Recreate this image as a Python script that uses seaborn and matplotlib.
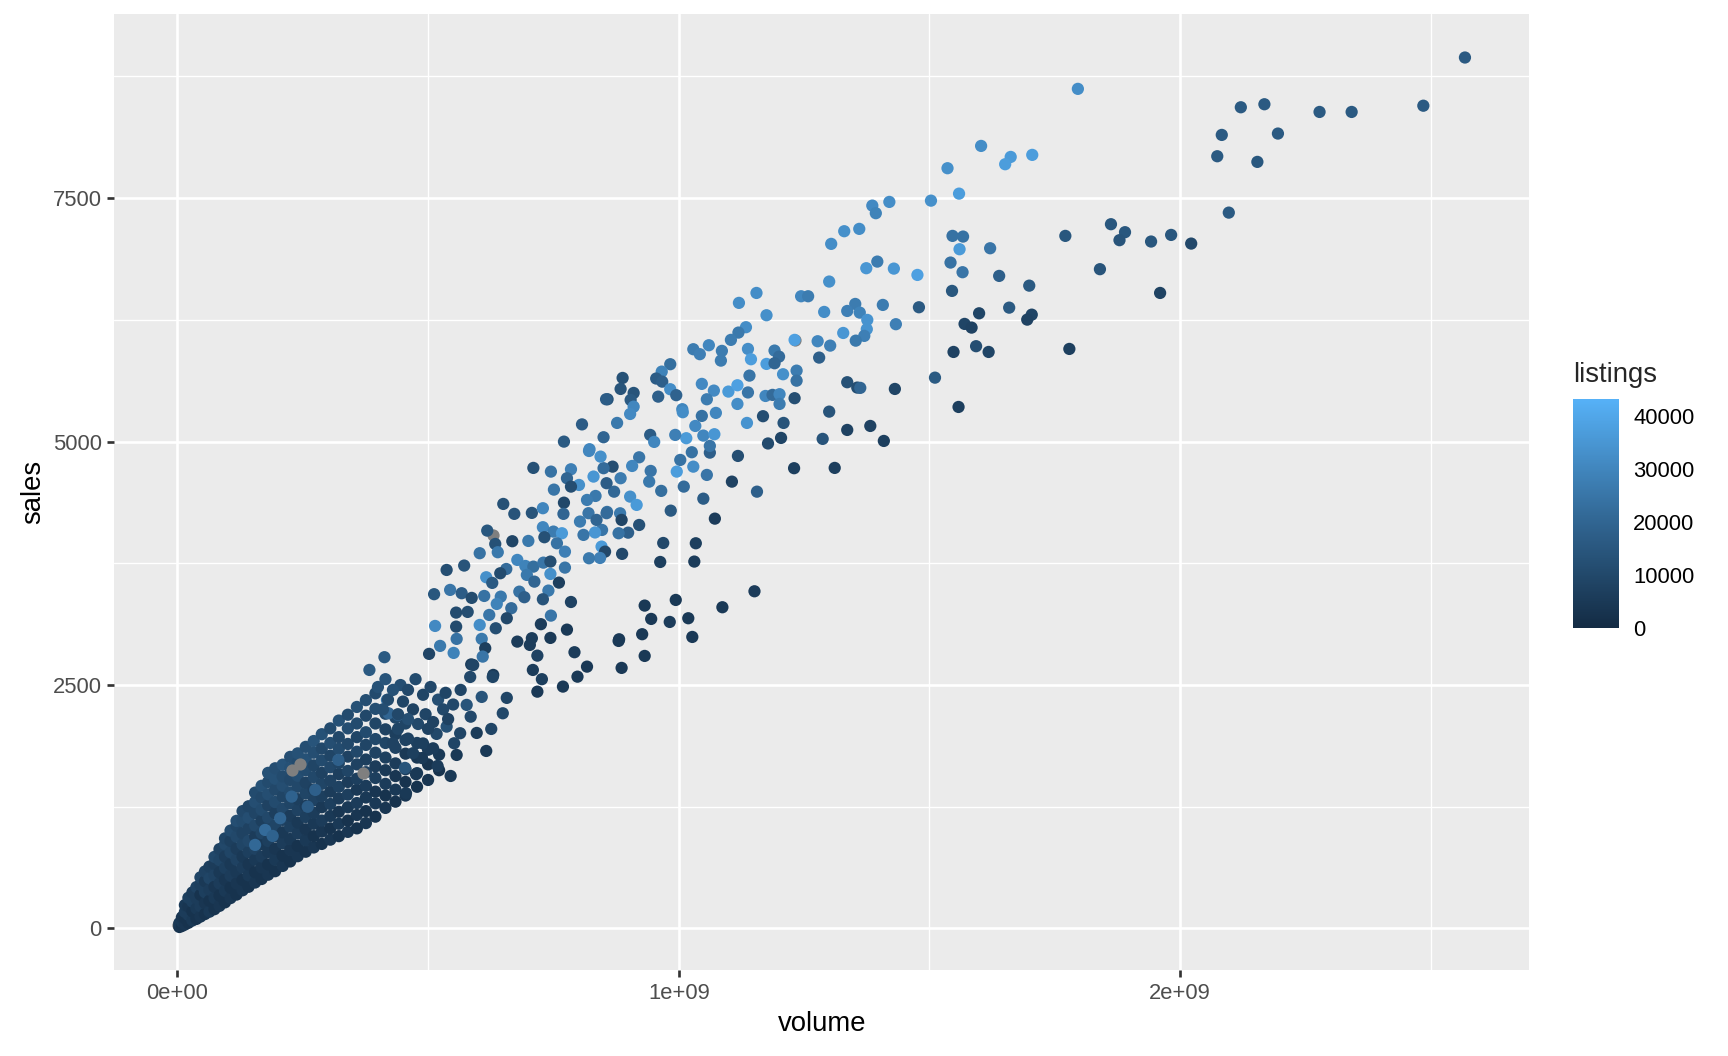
import numpy as np
import pandas as pd
import matplotlib
matplotlib.use("Agg")
import matplotlib.pyplot as plt
from matplotlib.colors import LinearSegmentedColormap, Normalize
from matplotlib.cm import ScalarMappable
import seaborn as sns

# values, volume in millions of dollars

# sparse upper part (sales above ~6000)
top_volume = [2568, 2485, 1796, 2121, 2168, 2278, 2342, 2083, 2195, 2074, 2154, 2097,
              1603, 1662, 1651, 1705, 1536, 1559, 1503, 1420, 1386, 1393, 1330, 1360,
              1546, 1567, 1560, 1621, 1771, 1862, 1890, 1879, 1942, 1982, 2022, 1542,
              1566, 1639, 1699, 1840, 1960, 1545, 1479, 1599, 1659, 1704, 1695, 1570,
              1584, 1374, 1396, 1429, 1476, 1407, 1352, 1336, 1361, 1376, 1433, 1304,
              1300, 1155, 1120, 1175, 1244, 1258, 1290, 1375, 1370, 1353, 1328, 1277,
              1231, 1134, 1119, 1104, 1060]
top_sales = [8945, 8450, 8623, 8434, 8465, 8386, 8386, 8150, 8164, 7931, 7873, 7352,
             8037, 7924, 7849, 7945, 7808, 7547, 7475, 7462, 7424, 7346, 7161, 7185,
             7113, 7106, 6976, 6986, 7113, 7233, 7151, 7069, 7055, 7123, 7034, 6839,
             6740, 6702, 6602, 6771, 6527, 6548, 6380, 6318, 6376, 6304, 6253, 6209,
             6171, 6781, 6849, 6777, 6712, 6404, 6414, 6342, 6325, 6250, 6206, 7031,
             6644, 6527, 6425, 6298, 6493, 6493, 6332, 6155, 6086, 6037, 6116, 6031,
             6045, 6175, 6120, 6045, 5990]
top_listings = [16000, 16000, 32000, 16000, 16000, 16000, 16000, 16000, 16000, 16000, 15000, 16000,
                32000, 36000, 37000, 37000, 33000, 37000, 33000, 32000, 31000, 29000, 33000, 32000,
                24000, 24000, 36000, 25000, 15000, 15000, 15000, 14000, 15000, 15000, 10000, 24000,
                25000, 18000, 16000, 14000, 8000, 15000, 16000, 9000, 16000, 9000, 8000, 9000,
                8000, 35000, 27000, 35000, 38000, 27000, 27000, 28000, 29000, 34000, 28000, 32000,
                33000, 32000, 32000, 33000, 30000, 27000, 32000, 34000, 28000, 26000, 35000, 30000,
                38000, 32000, 26000, 27000, 30000]

# middle part (sales ~3800 to ~6000)
mid_volume = [1302, 1280, 1336, 1356, 1138, 1144, 1175, 1191, 1200, 1191, 1208, 1235,
              1235, 1231, 1141, 1086, 1084, 1029, 1042, 1046, 1070, 1099, 1117, 1138,
              1173, 1187, 1201, 1201, 1117, 1056, 983, 966, 955, 967, 983, 995,
              959, 888, 884, 910, 904, 858, 1007, 910, 1548, 1593, 1618, 1779,
              1511, 1431, 1362, 1558, 1382, 1409, 1300, 1336, 1287, 1311, 1230, 1209,
              1204, 1178, 1168, 1136, 1118, 1106, 1156, 1072, 1034, 1031, 969, 963,
              1049, 984, 1010, 1056, 1029, 996, 1003, 1026, 1062, 1062, 1049, 1071,
              1015, 993, 1033, 1046, 1074, 1008, 943, 951, 944, 941, 965, 921,
              907, 884, 868, 850, 871, 856, 903, 916, 883, 857, 886, 921,
              899, 880, 847, 846, 853, 887, 843, 877, 903, 850, 855, 807,
              771, 822, 821, 844, 710, 745, 785, 830, 777, 801, 751, 785,
              834, 817, 771, 650, 672, 707, 729, 770, 820, 856, 803, 836,
              729, 750, 767, 833, 810, 732, 700, 668, 618, 634, 757, 773,
              821, 603, 639]
mid_sales = [5986, 5863, 5610, 5555, 5952, 5846, 5798, 5935, 5873, 5805, 5692, 5729,
             5626, 5446, 5678, 5932, 5832, 5949, 5898, 5593, 5524, 5514, 5579, 5505,
             5469, 5480, 5487, 5387, 5387, 5435, 5795, 5719, 5648, 5616, 5538, 5477,
             5462, 5654, 5541, 5500, 5428, 5435, 5333, 5359, 5921, 5980, 5921, 5952,
             5657, 5541, 5552, 5356, 5161, 5007, 5308, 5120, 5028, 4730, 4727, 5192,
             5038, 4981, 5261, 5192, 4853, 4589, 4486, 4209, 3956, 3768, 3959, 3764,
             4414, 4291, 4538, 4658, 4743, 4692, 4812, 4891, 4887, 4956, 5062, 5076,
             5035, 5069, 5161, 5264, 5295, 5302, 5069, 4997, 4699, 4589, 4494, 4839,
             4750, 4624, 4743, 4727, 4486, 4573, 4435, 4350, 4264, 4278, 4196, 4144,
             4065, 4059, 4093, 3922, 3870, 3847, 3805, 5192, 5284, 5045, 5435, 5177,
             5000, 4922, 4904, 4846, 4730, 4692, 4716, 4641, 4624, 4555, 4507, 4538,
             4442, 4401, 4373, 4360, 4258, 4268, 4316, 4258, 4265, 4265, 4179, 4196,
             4121, 4076, 4059, 4067, 4042, 4018, 3980, 3977, 4086, 3949, 3956, 3870,
             3802, 3854, 3864]
mid_listings = [28000, 18000, 13000, 12000, 32000, 37000, 37000, 26000, 22000, 20000, 33000, 27000,
                24000, 12000, 25000, 27000, 27000, 27000, 28000, 31000, 31000, 36000, 38000, 25000,
                30000, 22000, 30000, 27000, 32000, 27000, 23000, 29000, 17000, 18000, 32000, 19000,
                18000, 13000, 14000, 14000, 16000, 14000, 30000, 30000, 8000, 12000, 9000, 7000,
                16000, 9000, 20000, 7000, 8000, 7000, 14000, 8000, 14000, 7000, 7000, 14000,
                9000, 11000, 12000, 34000, 12000, 8000, 18000, 6000, 7000, 6000, 10000, 7000,
                17000, 16000, 22000, 25000, 32000, 37000, 24000, 24000, 18000, 25000, 30000, 35000,
                36000, 28000, 31000, 24000, 30000, 32000, 17000, 30000, 25000, 26000, 23000, 25000,
                30000, 27000, 12000, 22000, 21000, 17000, 33000, 36000, 26000, 24000, 9000, 13000,
                18000, 24000, 25000, 36000, 10000, 10000, 28000, 26000, 31000, 20000, 17000, 17000,
                16000, 30000, 30000, 33000, 13000, 24000, 28000, 35000, 20000, 33000, 25000, 12000,
                26000, 27000, 10000, 13000, 14000, 14000, 30000, 20000, 25000, 22000, 27000, 20000,
                30000, 27000, 36000, 35000, 25000, 13000, 26000, 9000, 15000, 13000, 24000, 28000,
                26000, 24000, 26000]

# lower part (sales ~1400 to ~3800, right of the dense core)
low_volume = [1151, 1087, 994, 932, 945, 982, 1019, 1027, 927, 881, 932, 886,
              537, 572, 678, 694, 710, 730, 744, 656, 644, 744, 773, 697,
              616, 628, 712, 761, 740, 682, 692, 729, 785, 512, 544, 567,
              587, 612, 645, 637, 666, 556, 579, 622, 657, 745, 725, 514,
              556, 603, 635, 777, 744, 557, 607, 678, 707, 703, 524, 551,
              614, 792, 502, 609, 718, 413, 383, 586, 817, 709, 630, 727,
              798, 769, 718, 880, 629, 584, 590, 607, 657, 649, 585, 577,
              626, 597, 564, 552, 616, 557, 537, 517, 545, 519, 476, 456,
              454, 488, 445, 460, 475, 490, 505, 520, 535, 550, 565, 450,
              470, 495, 510, 530, 480, 500, 460, 540, 440, 440, 460, 490,
              510, 470, 430, 420, 430, 410, 400, 415]
low_sales = [3463, 3299, 3374, 3316, 3179, 3148, 3186, 2994, 3022, 2970, 2799, 2676,
             3682, 3727, 3785, 3723, 3716, 3757, 3768, 3692, 3648, 3641, 3706, 3631,
             3607, 3549, 3562, 3552, 3470, 3459, 3402, 3381, 3353, 3433, 3477, 3443,
             3395, 3415, 3408, 3333, 3289, 3244, 3251, 3220, 3186, 3213, 3125, 3107,
             3100, 3117, 3083, 3069, 2984, 2974, 2974, 2946, 2981, 2912, 2902, 2830,
             2878, 2837, 2820, 2792, 2802, 2786, 2655, 2712, 2689, 2655, 2604, 2560,
             2586, 2484, 2432, 2953, 2583, 2583, 2706, 2378, 2368, 2210, 2175, 2296,
             2049, 2008, 2005, 1902, 1823, 1782, 2073, 1998, 1566, 1669, 1584, 1389,
             1649, 1750, 2500, 2450, 2560, 2400, 2480, 2350, 2420, 2300, 2450, 2330,
             2250, 2200, 2120, 2250, 2100, 2050, 2150, 2150, 2200, 2050, 1950, 1900,
             1850, 1800, 1900, 2350, 2450, 2250, 2480, 2560]
low_listings = [6000, 5000, 5000, 5000, 5000, 6000, 5000, 5000, 5000, 5000, 5000, 5000,
                12000, 14000, 30000, 29000, 23000, 25000, 12000, 22000, 11000, 33000, 25000, 26000,
                33000, 16000, 20000, 7000, 26000, 24000, 18000, 14000, 8000, 15000, 25000, 17000,
                11000, 24000, 26000, 29000, 22000, 11000, 12000, 25000, 10000, 25000, 6000, 31000,
                11000, 32000, 12000, 5000, 5000, 24000, 26000, 6000, 6000, 6000, 26000, 29000,
                7000, 6000, 9000, 25000, 8000, 16000, 16000, 7000, 5000, 6000, 6000, 7000,
                5000, 5000, 5000, 5000, 9000, 10000, 9000, 14000, 9000, 10000, 10000, 14000,
                9000, 6000, 9000, 9000, 5000, 5000, 13000, 10000, 5000, 6000, 5000, 5000,
                14000, 5000, 12000, 10000, 11000, 9000, 10000, 12000, 9000, 10000, 9000, 9000,
                8000, 9000, 8000, 10000, 10000, 8000, 12000, 8000, 10000, 9000, 8000, 7000,
                6000, 7000, 8000, 11000, 13000, 12000, 13000, 14000]

# dense core near the origin: one volume per column, several sales in each
core_volume = [4, 9, 15, 22, 30, 38, 46, 55, 64, 74, 84, 95, 106, 118, 130, 142, 155, 168,
               181, 195, 210, 225, 240, 256, 272, 288, 305, 322, 340, 358, 376, 395,
               415, 435, 455, 478, 500, 522]
core_sales = [
    [15, 35, 55],
    [25, 70, 115],
    [40, 105, 170, 240],
    [58, 140, 225, 315],
    [82, 175, 275, 370],
    [98, 205, 310, 425],
    [122, 228, 345, 448, 525],
    [148, 262, 372, 485, 585],
    [172, 285, 398, 515, 635],
    [198, 312, 428, 548, 665, 735],
    [232, 338, 462, 575, 702, 815],
    [268, 385, 498, 622, 738, 865, 925],
    [312, 418, 542, 658, 782, 898, 1005],
    [348, 462, 578, 705, 818, 942, 1055, 1105],
    [392, 498, 625, 738, 862, 978, 1102, 1205],
    [428, 545, 658, 785, 898, 1025, 1138, 1255],
    [472, 578, 705, 818, 945, 1058, 1185, 1298, 1395],
    [508, 625, 738, 865, 978, 1105, 1218, 1345, 1465],
    [552, 658, 785, 898, 1025, 1138, 1265, 1378, 1505, 1598],
    [588, 705, 818, 945, 1058, 1185, 1298, 1425, 1538, 1645],
    [642, 748, 875, 988, 1115, 1228, 1355, 1465, 1562, 1682],
    [688, 805, 918, 1045, 1158, 1285, 1398, 1525, 1648, 1762],
    [742, 848, 975, 1088, 1215, 1328, 1455, 1568, 1705, 1798],
    [788, 905, 1018, 1145, 1258, 1385, 1498, 1625, 1738, 1865],
    [832, 948, 1075, 1188, 1315, 1428, 1555, 1675, 1805, 1925],
    [868, 995, 1108, 1245, 1358, 1485, 1598, 1725, 1848, 1995],
    [912, 1028, 1155, 1278, 1405, 1518, 1655, 1775, 1905, 2055],
    [948, 1075, 1198, 1335, 1455, 1585, 1698, 1845, 1965, 2135],
    [992, 1108, 1245, 1375, 1505, 1618, 1765, 1895, 2055, 2195],
    [1028, 1165, 1288, 1425, 1538, 1685, 1815, 1965, 2105, 2275],
    [1082, 1205, 1345, 1465, 1605, 1735, 1885, 2015, 2185, 2345],
    [1148, 1285, 1405, 1545, 1665, 1805, 1945, 2105, 2255, 2415],
    [1238, 1365, 1485, 1625, 1755, 1905, 2045, 2205],
    [1302, 1425, 1565, 1695, 1855, 1995, 2165],
    [1365, 1505, 1635, 1795, 1935, 2105],
    [1455, 1595, 1755, 1905],
    [1525, 1685, 1835],
    [1625, 1785],
]
core_listings = [
    [3000, 4000, 5000],
    [3000, 5000, 4000],
    [4000, 3000, 6000, 5000],
    [3000, 6000, 4000, 7000],
    [5000, 3000, 7000, 6000],
    [3000, 5000, 6000, 8000],
    [4000, 6000, 3000, 7000, 9000],
    [3000, 4000, 7000, 5000, 8000],
    [5000, 3000, 6000, 9000, 7000],
    [3000, 5000, 4000, 8000, 6000, 10000],
    [4000, 3000, 6000, 5000, 9000, 8000],
    [3000, 5000, 4000, 7000, 6000, 10000, 9000],
    [4000, 3000, 6000, 5000, 9000, 7000, 11000],
    [3000, 4000, 5000, 8000, 6000, 10000, 9000, 12000],
    [4000, 3000, 6000, 5000, 9000, 8000, 11000, 10000],
    [3000, 5000, 4000, 7000, 10000, 8000, 12000, 9000],
    [4000, 3000, 5000, 8000, 6000, 10000, 9000, 12000, 11000],
    [3000, 4000, 6000, 5000, 9000, 7000, 11000, 10000, 13000],
    [4000, 3000, 5000, 7000, 6000, 10000, 8000, 12000, 11000, 13000],
    [3000, 5000, 4000, 6000, 9000, 7000, 11000, 10000, 13000, 12000],
    [4000, 3000, 6000, 5000, 8000, 10000, 9000, 12000, 11000, 14000],
    [3000, 4000, 5000, 7000, 6000, 9000, 11000, 10000, 13000, 12000],
    [4000, 3000, 6000, 5000, 8000, 7000, 10000, 12000, 11000, 13000],
    [3000, 5000, 4000, 7000, 6000, 9000, 8000, 11000, 13000, 12000],
    [4000, 3000, 5000, 6000, 8000, 7000, 10000, 9000, 12000, 14000],
    [3000, 4000, 6000, 5000, 7000, 9000, 8000, 11000, 10000, 13000],
    [4000, 3000, 5000, 7000, 6000, 8000, 10000, 9000, 12000, 11000],
    [3000, 5000, 4000, 6000, 8000, 7000, 9000, 11000, 10000, 13000],
    [4000, 3000, 5000, 7000, 6000, 9000, 8000, 10000, 12000, 11000],
    [3000, 4000, 6000, 5000, 7000, 8000, 10000, 9000, 11000, 13000],
    [4000, 3000, 5000, 6000, 8000, 7000, 9000, 11000, 10000, 12000],
    [3000, 5000, 4000, 7000, 6000, 8000, 10000, 9000, 12000, 11000],
    [4000, 3000, 6000, 5000, 7000, 9000, 8000, 11000],
    [3000, 5000, 4000, 6000, 8000, 7000, 10000],
    [4000, 3000, 6000, 5000, 8000, 9000],
    [3000, 5000, 4000, 7000],
    [4000, 3000, 6000],
    [3000, 5000],
]

# lighter spots showing inside the core
spot_volume = [418, 421, 440, 175, 155, 205, 228, 275, 321, 190, 260]
spot_sales = [2347, 2210, 2193, 1012, 858, 1132, 1354, 1423, 1731, 950, 1250]
spot_listings = [25000, 20000, 18000, 22000, 21000, 20000, 19000, 18000, 18000, 19000, 17000]

# points with missing listings (drawn grey); the first list sits under the core
na_under_volume = [2]
na_under_sales = [36]
na_volume = [1231, 630, 228, 245, 371]
na_sales = [6040, 4042, 1628, 1690, 1594]

x_ticks = [0, 1e9, 2e9]
x_tick_labels = ["0e+00", "1e+09", "2e+09"]
x_minor = [0.5e9, 1.5e9, 2.5e9]
y_ticks = [0, 2500, 5000, 7500]
y_minor = [1250, 3750, 6250, 8750]
legend_ticks = [0, 10000, 20000, 30000, 40000]
listings_max = 43107


def region(vol, sales, listings):
    return pd.DataFrame({"volume": np.asarray(vol, dtype=float) * 1e6,
                         "sales": np.asarray(sales, dtype=float),
                         "listings": np.asarray(listings, dtype=float)})


core = pd.concat([region([v] * len(s), s, l)
                  for v, s, l in zip(core_volume, core_sales, core_listings)],
                 ignore_index=True)
spots = region(spot_volume, spot_sales, spot_listings)
low = region(low_volume, low_sales, low_listings)
mid = region(mid_volume, mid_sales, mid_listings)
top = region(top_volume, top_sales, top_listings)
na_under = pd.DataFrame({"volume": np.asarray(na_under_volume, dtype=float) * 1e6,
                         "sales": na_under_sales})
na = pd.DataFrame({"volume": np.asarray(na_volume, dtype=float) * 1e6, "sales": na_sales})

sns.set_theme(style="darkgrid", rc={
    "axes.facecolor": "#EBEBEB",
    "grid.color": "white",
    "axes.edgecolor": "#EBEBEB",
})
plt.rcParams["font.family"] = ["Liberation Sans", "DejaVu Sans"]

cmap = LinearSegmentedColormap.from_list("gg_blues", ["#132B43", "#336A98", "#56B1F7"])
norm = Normalize(0, listings_max)

fig = plt.figure(figsize=(9.6, 5.8667), dpi=180)
ax = fig.add_axes([0.0660, 0.0810, 0.8190, 0.9057])

pt_size = 24
sns.scatterplot(data=na_under, x="volume", y="sales", color="#7F7F7F", s=pt_size,
                linewidth=0, legend=False, ax=ax)
for part in [core, spots]:
    sns.scatterplot(data=part, x="volume", y="sales", hue="listings", palette=cmap,
                    hue_norm=norm, s=pt_size, linewidth=0, legend=False, ax=ax)
sns.scatterplot(data=na, x="volume", y="sales", color="#7F7F7F", s=pt_size,
                linewidth=0, legend=False, ax=ax)
for part in [low, mid, top]:
    sns.scatterplot(data=part, x="volume", y="sales", hue="listings", palette=cmap,
                    hue_norm=norm, s=pt_size, linewidth=0, legend=False, ax=ax)

# ggplot style limits: data range plus 5% either side
all_x = pd.concat([core.volume, spots.volume, low.volume, mid.volume, top.volume,
                   na.volume, na_under.volume])
all_y = pd.concat([core.sales, spots.sales, low.sales, mid.sales, top.sales,
                   na.sales, na_under.sales])
dx = 0.05 * (all_x.max() - all_x.min())
dy = 0.05 * (all_y.max() - all_y.min())
ax.set_xlim(all_x.min() - dx, all_x.max() + dx)
ax.set_ylim(all_y.min() - dy, all_y.max() + dy)

ax.set_xticks(x_ticks)
ax.set_xticklabels(x_tick_labels)
ax.set_xticks(x_minor, minor=True)
ax.set_yticks(y_ticks)
ax.set_yticklabels([str(v) for v in y_ticks])
ax.set_yticks(y_minor, minor=True)

ax.grid(which="major", color="white", linewidth=1.07)
ax.grid(which="minor", color="white", linewidth=0.53)
ax.set_axisbelow(True)
for sp in ax.spines.values():
    sp.set_visible(False)

ax.tick_params(which="major", length=2.75, width=1.07, color="#333333",
               labelsize=8.8, labelcolor="#4D4D4D", pad=2.2,
               bottom=True, left=True)
ax.tick_params(which="minor", length=0)
ax.set_xlabel("volume", fontsize=11, color="black", labelpad=2.75)
ax.set_ylabel("sales", fontsize=11, color="black", labelpad=2.75)

# colour bar legend
cax = fig.add_axes([0.9101, 0.4050, 0.0270, 0.2171])
cb = fig.colorbar(ScalarMappable(norm=norm, cmap=cmap), cax=cax)
cb.outline.set_visible(False)
cb.set_ticks(legend_ticks)
cb.set_ticklabels([str(v) for v in legend_ticks])
cax.tick_params(axis="y", direction="in", length=3.7, width=0.6, color="white",
                left=True, right=True, labelleft=False, labelright=True,
                labelsize=8.8, labelcolor="black", pad=5.5)
fig.text(1573 / 1728, 1 - 381.7 / 1056, "listings", fontsize=11, va="baseline", ha="left")

fig.savefig("out.png", dpi=180, facecolor="white")
